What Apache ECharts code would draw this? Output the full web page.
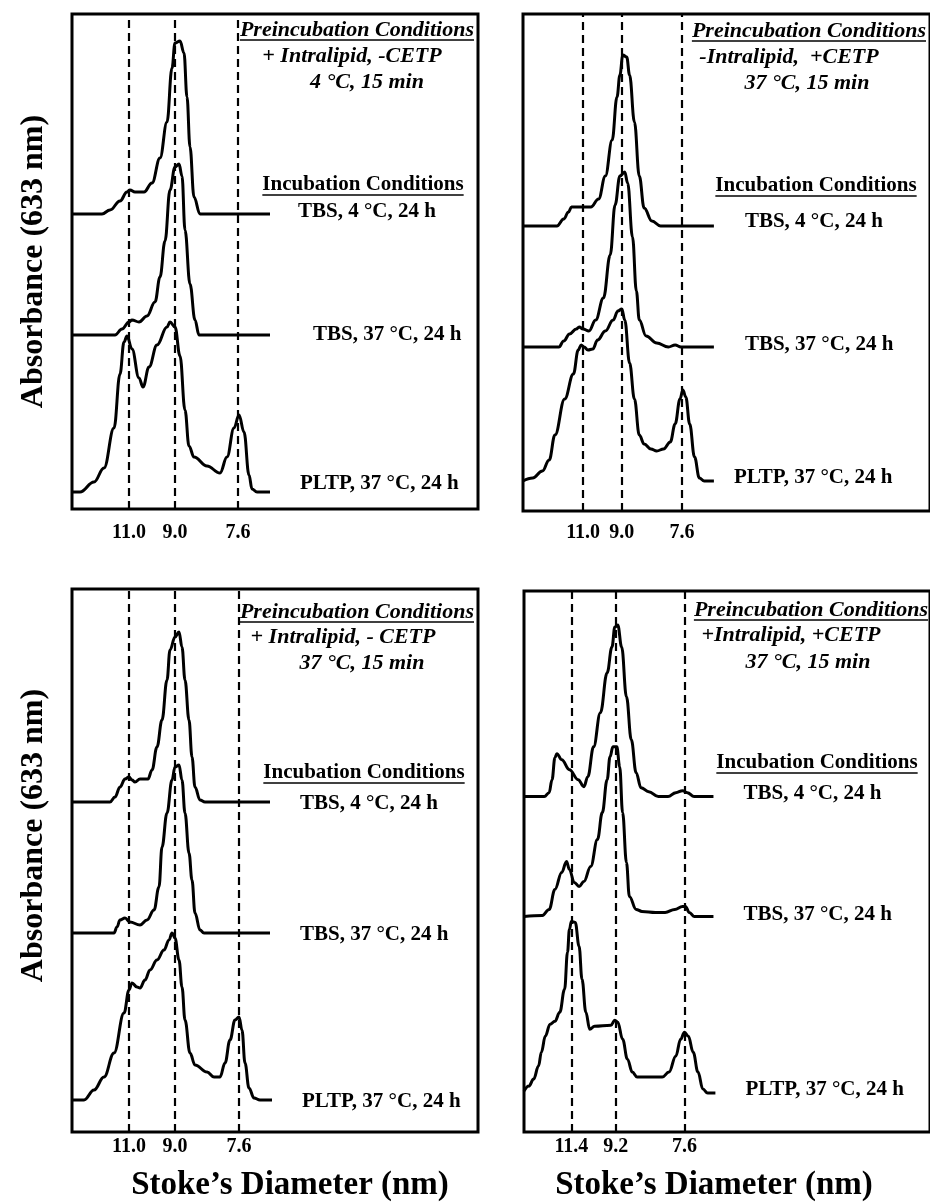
<!DOCTYPE html>
<html>
<head>
<meta charset="utf-8">
<title>Stoke's diameter profiles</title>
<script src="https://cdn.jsdelivr.net/npm/echarts@6/dist/echarts.min.js"></script>
<style>
  html, body { margin: 0; padding: 0; background: #fff; }
  #chart { width: 930px; height: 1203px; }
</style>
</head>
<body>
<div id="chart"></div>
<script>
// x = elution position (from left edge of each box), y = absorbance (from box bottom)
// panel A: top left
const tbs4A = [[0,295],[30,295],[38,299],[48,308],[55,317],[58,319],[63,317],[72,317],[80,326],[88,351],[95,387],[100,441],[103,466],[108,468],[112,456],[115,412],[118,362],[122,312],[128,295],[198,295]]
const tbs37A = [[0,174],[43,174],[50,180],[57,187],[60,189],[67,187],[75,193],[83,207],[88,232],[93,268],[98,319],[103,342],[107,345],[110,333],[113,279],[118,225],[123,189],[127,174],[198,174]]
const pltpA = [[0,17],[8,17],[22,27],[32,41],[42,81],[48,135],[52,167],[55,173],[60,160],[67,131],[71,122],[77,142],[85,164],[95,182],[98,187],[103,182],[108,153],[113,99],[117,63],[122,52],[135,43],[148,36],[155,52],[162,81],[167,94],[172,77],[177,34],[180,20],[185,17],[198,17]]
// panel B: top right
const tbs4B = [[0,285],[35,285],[42,292],[47,299],[50,304],[70,304],[78,312],[85,335],[92,371],[97,414],[100,436],[103,456],[107,454],[110,436],[115,389],[120,335],[125,303],[133,290],[142,285],[197,285]]
const tbs37B = [[0,164],[37,164],[42,170],[48,177],[55,182],[58,184],[62,182],[68,180],[75,191],[83,213],[90,256],[95,306],[100,335],[105,339],[108,328],[113,274],[117,220],[120,191],[127,175],[138,168],[150,164],[157,166],[163,164],[197,164]]
const pltpB = [[0,30],[10,33],[20,40],[27,51],[33,76],[43,112],[52,137],[57,161],[60,166],[63,164],[67,161],[72,162],[77,171],[85,180],[93,191],[98,200],[102,202],[105,191],[110,148],[115,112],[120,76],[125,67],[132,62],[138,60],[145,62],[152,69],[157,87],[162,112],[165,121],[168,114],[172,87],[177,54],[182,33],[187,30],[197,30]]
// panel C: bottom left
const tbs4C = [[0,330],[38,330],[43,335],[48,345],[53,353],[57,355],[60,352],[63,350],[68,353],[76,353],[80,362],[85,385],[90,412],[95,452],[98,482],[103,495],[107,500],[110,485],[113,452],[117,412],[120,375],[123,345],[128,332],[133,330],[198,330]]
const tbs37C = [[0,199],[42,199],[45,205],[48,212],[53,214],[58,210],[68,207],[75,212],[82,222],[87,245],[90,285],[95,319],[100,352],[103,365],[107,367],[110,352],[113,319],[117,279],[120,252],[123,219],[128,202],[132,199],[198,199]]
const pltpC = [[0,32],[12,32],[22,42],[32,55],[42,79],[52,119],[57,142],[60,149],[65,145],[68,144],[73,152],[78,162],[85,172],[92,182],[97,192],[100,199],[103,194],[107,172],[110,145],[113,112],[118,79],[123,67],[135,60],[142,55],[148,55],[153,69],[158,92],[163,112],[167,115],[170,102],[173,69],[177,44],[182,34],[188,32],[200,32]]
// panel D: bottom right
const tbs4D = [[0,336],[21,336],[26,340],[29,353],[32,375],[34,379],[39,373],[47,363],[56,353],[62,346],[66,356],[72,386],[79,420],[86,460],[91,486],[94,506],[97,508],[101,486],[106,436],[111,393],[116,360],[121,345],[129,341],[139,336],[149,336],[157,340],[164,342],[169,340],[176,336],[196,336]]
const tbs37D = [[0,216],[19,217],[26,223],[32,243],[39,260],[44,271],[47,263],[52,250],[57,246],[62,251],[69,266],[76,293],[81,320],[86,353],[89,376],[92,386],[96,386],[99,366],[102,320],[106,270],[109,236],[116,223],[122,221],[136,220],[146,220],[156,223],[164,226],[167,226],[171,220],[176,216],[196,216]]
const pltpD = [[0,41],[5,46],[10,53],[15,66],[18,80],[22,96],[27,108],[32,111],[37,120],[42,143],[45,180],[47,203],[49,211],[53,210],[57,186],[60,153],[64,120],[68,103],[73,106],[90,107],[94,112],[97,110],[102,93],[107,73],[112,60],[117,55],[143,55],[150,60],[157,76],[162,93],[166,100],[170,96],[175,80],[180,60],[185,43],[190,39],[198,39]]

// dashed reference lines and their Stoke's diameter labels
const marksA = [57, 103, 166]
const marksB = [62, 102, 164]
const marksC = [57, 103, 167]
const marksD = [49, 95, 166]
const sizesTop = ['11.0', '9.0', '7.6']
const sizesBottomLeft = ['11.0', '9.0', '7.6']
const sizesBottomRight = ['11.4', '9.2', '7.6']

const traceNames = ['TBS, 4 °C, 24 h', 'TBS, 37 °C, 24 h', 'PLTP, 37 °C, 24 h']
const preA = ['+ Intralipid, -CETP', '4 °C, 15 min']
const preB = ['-Intralipid,  +CETP', '37 °C, 15 min']
const preC = ['+ Intralipid, - CETP', '37 °C, 15 min']
const preD = ['+Intralipid, +CETP', '37 °C, 15 min']

const FONT = 'Liberation Serif'
const measure = document.createElement('canvas').getContext('2d')
function textWidth(str, font) {
  measure.font = font
  return measure.measureText(str).width
}

const panels = [
  { grid: { left: 72, top: 14, width: 406, height: 495 }, traces: [tbs4A, tbs37A, pltpA], marks: marksA, sizes: sizesTop,
    pre: preA, preRight: 474, preY: 30, lineX: [352, 367], lineY: [56, 82], incX: 363, incY: 185,
    labelGap: [25, 40, 27], labelLift: [-2, 0, -8], yName: true, tickMargin: 14 },
  { grid: { left: 523, top: 14, width: 420, height: 497 }, traces: [tbs4B, tbs37B, pltpB], marks: marksB, sizes: sizesTop,
    pre: preB, preRight: 926, preY: 31, lineX: [789, 807], lineY: [57, 83], incX: 816, incY: 186,
    labelGap: [28, 28, 17], labelLift: [-4, -2, -3], tickMargin: 12 },
  { grid: { left: 72, top: 589, width: 406, height: 543 }, traces: [tbs4C, tbs37C, pltpC], marks: marksC, sizes: sizesBottomLeft,
    pre: preC, preRight: 474, preY: 612, lineX: [343, 362], lineY: [637, 663], incX: 364, incY: 773,
    labelGap: [27, 27, 27], labelLift: [2, 2, 2], yName: true, xName: true, xNameShift: 15, tickMargin: 5 },
  { grid: { left: 524, top: 591, width: 420, height: 542 }, traces: [tbs4D, tbs37D, pltpD], marks: marksD, sizes: sizesBottomRight,
    pre: preD, preRight: 928, preY: 610, lineX: [791, 808], lineY: [635, 662], incX: 817, incY: 763,
    labelGap: [27, 27, 27], labelLift: [-3, -2, -3], xName: true, xNameShift: -13, tickMargin: 5 }
]

const grid = [], xAxis = [], yAxis = [], series = [], graphic = []
const preFont = 'italic bold 22px "' + FONT + '"'
const incFont = 'bold 21px "' + FONT + '"'

panels.forEach((p, i) => {
  grid.push(Object.assign({ show: true, borderColor: '#000', borderWidth: 3, backgroundColor: 'transparent' }, p.grid))
  const sizeOf = {}
  p.marks.forEach((m, k) => { sizeOf[m] = p.sizes[k] })
  const shift = p.xNameShift || 0
  xAxis.push({
    gridIndex: i, type: 'value', min: 0, max: p.grid.width,
    axisLine: { show: false }, axisTick: { show: false }, splitLine: { show: false },
    axisLabel: {
      customValues: p.marks, formatter: v => sizeOf[v] || '', margin: p.tickMargin,
      color: '#000', fontFamily: FONT, fontWeight: 'bold', fontSize: 20
    },
    name: p.xName ? 'Stoke\u2019s Diameter (nm)' : '', nameLocation: 'middle', nameGap: 37,
    nameTextStyle: {
      color: '#000', fontFamily: FONT, fontWeight: 'bold', fontSize: 33,
      padding: shift > 0 ? [0, 0, 0, 2 * shift] : [0, -2 * shift, 0, 0]
    }
  })
  yAxis.push({
    gridIndex: i, type: 'value', min: 0, max: p.grid.height,
    axisLine: { show: false }, axisTick: { show: false }, axisLabel: { show: false }, splitLine: { show: false },
    name: p.yName ? 'Absorbance (633 nm)' : '', nameLocation: 'middle', nameGap: 22, nameRotate: 90,
    nameTextStyle: {
      color: '#000', fontFamily: FONT, fontWeight: 'bold', fontSize: 32,
      padding: i === 2 ? [0, 0, 0, 50] : 0
    }
  })
  p.traces.forEach((data, k) => {
    const s = {
      type: 'line', name: traceNames[k], xAxisIndex: i, yAxisIndex: i, data: data,
      showSymbol: false, symbol: 'none', smooth: 0.4, smoothMonotone: 'x', silent: true,
      lineStyle: { color: '#000', width: 3 },
      endLabel: {
        show: true, formatter: traceNames[k], offset: [p.labelGap[k] - 5, p.labelLift[k]],
        color: '#000', fontFamily: FONT, fontWeight: 'bold', fontSize: 21
      }
    }
    if (k === 0) {
      s.markLine = {
        silent: true, symbol: ['none', 'none'], label: { show: false },
        lineStyle: { color: '#000', width: 2.2, type: [8, 5] },
        data: p.marks.map(m => ({ xAxis: m }))
      }
    }
    series.push(s)
  })

  // preincubation / incubation notes
  const preW = textWidth('Preincubation Conditions', preFont)
  graphic.push({ type: 'text', style: { text: 'Preincubation Conditions', x: p.preRight, y: p.preY, font: preFont, fill: '#000', textAlign: 'right', textVerticalAlign: 'middle' } })
  graphic.push({ type: 'line', shape: { x1: p.preRight - preW, y1: p.preY + 10, x2: p.preRight, y2: p.preY + 10 }, style: { stroke: '#000', lineWidth: 1.5 } })
  p.pre.forEach((t, k) => {
    graphic.push({ type: 'text', style: { text: t, x: p.lineX[k], y: p.lineY[k], font: preFont, fill: '#000', textAlign: 'center', textVerticalAlign: 'middle' } })
  })
  const incW = textWidth('Incubation Conditions', incFont)
  graphic.push({ type: 'text', style: { text: 'Incubation Conditions', x: p.incX, y: p.incY, font: incFont, fill: '#000', textAlign: 'center', textVerticalAlign: 'middle' } })
  graphic.push({ type: 'line', shape: { x1: p.incX - incW / 2, y1: p.incY + 10, x2: p.incX + incW / 2, y2: p.incY + 10 }, style: { stroke: '#000', lineWidth: 1.5 } })
})

const chart = echarts.init(document.getElementById('chart'), null, { renderer: 'canvas' })
chart.setOption({
  animation: false,
  backgroundColor: '#fff',
  grid: grid,
  xAxis: xAxis,
  yAxis: yAxis,
  series: series,
  graphic: graphic
})
</script>
</body>
</html>
